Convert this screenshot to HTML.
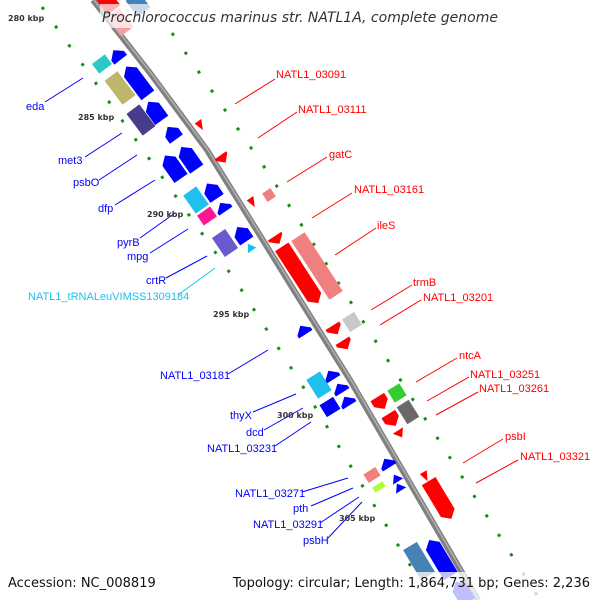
<!DOCTYPE html>
<html><head><meta charset="utf-8"><style>
html,body{margin:0;padding:0;background:#fff;}
svg{display:block;}
text{font-family:"DejaVu Sans","Liberation Sans",sans-serif;}
.b{fill:#0000ff;font-size:11px;font-family:"Liberation Sans",sans-serif;}
.r{fill:#ff0000;font-size:11px;font-family:"Liberation Sans",sans-serif;}
.k{fill:#333;font-size:8px;font-weight:bold;}
</style></head><body>
<svg width="600" height="600" viewBox="0 0 600 600" xmlns="http://www.w3.org/2000/svg">
<polyline points="42,7 237,283 302,385 413,570 430,600" fill="none" stroke="#1a8a1a" stroke-width="3" stroke-dasharray="3 20"/>
<polyline points="172,33 269,174 440,442 540,600" fill="none" stroke="#1a8a1a" stroke-width="3" stroke-dasharray="3 20"/>
<polyline points="93,0 150,73 207,150 300,300 350,380 478,600" fill="none" stroke="#808080" stroke-width="6" stroke-linejoin="round"/>
<polyline points="94,0 151,73 208,150 301,300 351,380 479,600" fill="none" stroke="#b0b0b0" stroke-width="1.5" stroke-linejoin="round"/>

<g transform="translate(108,2) rotate(233)"><rect x="-10" y="-8" width="20" height="16" fill="#ff0000"/></g>
<g transform="translate(138,4) rotate(233)"><rect x="-10" y="-8" width="20" height="16" fill="#4682b4"/></g>
<g transform="translate(120,22) rotate(233)"><rect x="-12" y="-8" width="24" height="16" fill="#f4a0a0"/></g>

<g fill="#0000ff">
<g transform="translate(117,55) rotate(232)"><polygon points="-6,-8 -1,-8 6,0 -1,8 -6,8"/></g>
<g transform="translate(137,81) rotate(233)"><polygon points="-18,-8 11,-8 18,0 11,8 -18,8"/></g>
<g transform="translate(155,111) rotate(234)"><polygon points="-11.5,-8 4.5,-8 11.5,0 4.5,8 -11.5,8"/></g>
<g transform="translate(172,133) rotate(234)"><polygon points="-7.5,-8 0.5,-8 7.5,0 0.5,8 -7.5,8"/></g>
<g transform="translate(173,167) rotate(235)"><polygon points="-14,-8 7,-8 14,0 7,8 -14,8"/></g>
<g transform="translate(189,158) rotate(235)"><polygon points="-13.5,-8 6.5,-8 13.5,0 6.5,8 -13.5,8"/></g>
<g transform="translate(212,191) rotate(236)"><polygon points="-9,-8 2,-8 9,0 2,8 -9,8"/></g>
<g transform="translate(223,207) rotate(236)"><polygon points="-5,-8 -2,-8 5,0 -2,8 -5,8"/></g>
<g transform="translate(242,234) rotate(236)"><polygon points="-8.5,-8 1.5,-8 8.5,0 1.5,8 -8.5,8"/></g>
<g transform="translate(303,330) rotate(237)"><polygon points="-5,-8 -2,-8 5,0 -2,8 -5,8"/></g>
<g transform="translate(331,375) rotate(238)"><polygon points="-5,-8 -2,-8 5,0 -2,8 -5,8"/></g>
<g transform="translate(340,388) rotate(238)"><polygon points="-5,-8 -2,-8 5,0 -2,8 -5,8"/></g>
<g transform="translate(347,401) rotate(238)"><polygon points="-5,-8 -2,-8 5,0 -2,8 -5,8"/></g>
<g transform="translate(330,407) rotate(238)"><rect x="-7" y="-8" width="14" height="16"/></g>
<g transform="translate(387,463) rotate(238)"><polygon points="-5,-8 -2,-8 5,0 -2,8 -5,8"/></g>
<g transform="translate(396,478) rotate(238)"><polygon points="-4,-6 4,0 -4,6"/></g>
<g transform="translate(399,487) rotate(238)"><polygon points="-4,-6 4,0 -4,6"/></g>
<g transform="translate(440,558) rotate(239)"><polygon points="-21,-8 14,-8 21,0 14,8 -21,8"/></g>
<g transform="translate(462,592) rotate(239)"><polygon points="-12,-8 5,-8 12,0 5,8 -12,8"/></g>
</g>
<g transform="translate(102,64) rotate(233)"><rect x="-6" y="-8" width="12" height="16" fill="#2ec8c8"/></g>
<g transform="translate(120,88) rotate(233)"><rect x="-15" y="-8" width="30" height="16" fill="#bdb76b"/></g>
<g transform="translate(141,120) rotate(233)"><rect x="-13.5" y="-8" width="27" height="16" fill="#483d8b"/></g>
<g transform="translate(196,200) rotate(235)"><rect x="-11" y="-8" width="22" height="16" fill="#1ec0f0"/></g>
<g transform="translate(207,216) rotate(235)"><rect x="-6" y="-8" width="12" height="16" fill="#ff1493"/></g>
<g transform="translate(225,243) rotate(236)"><rect x="-11.5" y="-8" width="23" height="16" fill="#6a5acd"/></g>
<g transform="translate(250,247) rotate(236)"><polygon points="-4,-5 4,0 -4,5" fill="#1ec0f0"/></g>
<g transform="translate(319,385) rotate(238)"><rect x="-11" y="-8" width="22" height="16" fill="#1ec0f0"/></g>
<g transform="translate(372,475) rotate(238)"><rect x="-5" y="-7" width="10" height="14" fill="#f08080"/></g>
<g transform="translate(379,487) rotate(238)"><rect x="-3" y="-6" width="6" height="12" fill="#adff2f"/></g>
<g transform="translate(419,561) rotate(239)"><rect x="-17.5" y="-8" width="35" height="16" fill="#4682b4"/></g>

<g fill="#ff0000">
<g transform="translate(200,126) rotate(55)"><polygon points="-5,-5 5,0 -5,3"/></g>
<g transform="translate(223,159) rotate(55)"><polygon points="-4.5,-7 -2.5,-7 4.5,0 -2.5,7 -4.5,7"/></g>
<g transform="translate(252,203) rotate(56)"><polygon points="-5,-5 5,0 -5,3"/></g>
<g transform="translate(277,240) rotate(57)"><polygon points="-4.5,-8 -2.5,-8 4.5,0 -2.5,8 -4.5,8"/></g>
<g transform="translate(300,275) rotate(57)"><polygon points="-33.5,-8 26.5,-8 33.5,0 26.5,8 -33.5,8"/></g>
<g transform="translate(335,330) rotate(58)"><polygon points="-5,-8 -2,-8 5,0 -2,8 -5,8"/></g>
<g transform="translate(345,345) rotate(58)"><polygon points="-5,-8 -2,-8 5,0 -2,8 -5,8"/></g>
<g transform="translate(381,403) rotate(58)"><polygon points="-7,-8 0,-8 7,0 0,8 -7,8"/></g>
<g transform="translate(392,420) rotate(58)"><polygon points="-7,-8 0,-8 7,0 0,8 -7,8"/></g>
<g transform="translate(400,434) rotate(58)"><polygon points="-4,-6 4,0 -4,6"/></g>
<g transform="translate(425,477) rotate(59)"><polygon points="-5,-5 5,0 -5,3"/></g>
<g transform="translate(440,500) rotate(59)"><polygon points="-22,-8 15,-8 22,0 15,8 -22,8"/></g>
</g>
<g transform="translate(269,195) rotate(56)"><rect x="-5" y="-5" width="10" height="10" fill="#f08080"/></g>
<g transform="translate(317,266) rotate(57)"><rect x="-35" y="-8" width="70" height="16" fill="#f08080"/></g>
<g transform="translate(352,322) rotate(58)"><rect x="-7.5" y="-7" width="15" height="14" fill="#c8c8c8"/></g>
<g transform="translate(397,393) rotate(58)"><rect x="-7" y="-7" width="14" height="14" fill="#32cd32"/></g>
<g transform="translate(408,412) rotate(58)"><rect x="-10" y="-7" width="20" height="14" fill="#696969"/></g>

<g stroke="#0000ff" stroke-width="1">
<line x1="45" y1="102" x2="83" y2="78"/>
<line x1="85" y1="157" x2="122" y2="133"/>
<line x1="99" y1="180" x2="137" y2="155"/>
<line x1="115" y1="205" x2="155" y2="180"/>
<line x1="140" y1="238" x2="175" y2="213"/>
<line x1="150" y1="253" x2="188" y2="229"/>
<line x1="166" y1="278" x2="207" y2="256"/>
<line x1="228" y1="374" x2="268" y2="350"/>
<line x1="253" y1="412" x2="296" y2="394"/>
<line x1="264" y1="430" x2="303" y2="408"/>
<line x1="275" y1="446" x2="311" y2="422"/>
<line x1="302" y1="492" x2="348" y2="478"/>
<line x1="311" y1="506" x2="353" y2="488"/>
<line x1="320" y1="523" x2="359" y2="497"/>
<line x1="328" y1="538" x2="362" y2="502"/>
</g>
<line x1="178" y1="295" x2="215" y2="268" stroke="#1ec0f0"/>
<g stroke="#ff0000" stroke-width="1">
<line x1="235" y1="104" x2="275" y2="79"/>
<line x1="258" y1="138" x2="297" y2="112"/>
<line x1="287" y1="182" x2="327" y2="157"/>
<line x1="312" y1="218" x2="352" y2="193"/>
<line x1="335" y1="255" x2="376" y2="228"/>
<line x1="371" y1="310" x2="412" y2="285"/>
<line x1="380" y1="325" x2="421" y2="300"/>
<line x1="416" y1="382" x2="457" y2="358"/>
<line x1="427" y1="401" x2="469" y2="377"/>
<line x1="436" y1="415" x2="478" y2="392"/>
<line x1="463" y1="463" x2="503" y2="439"/>
<line x1="476" y1="483" x2="518" y2="460"/>
</g>

<text class="b" x="26" y="110">eda</text>
<text class="b" x="58" y="164">met3</text>
<text class="b" x="73" y="186">psbO</text>
<text class="b" x="98" y="212">dfp</text>
<text class="b" x="117" y="246">pyrB</text>
<text class="b" x="127" y="260">mpg</text>
<text class="b" x="146" y="284">crtR</text>
<text x="28" y="300" style="fill:#1ec0f0;font-size:11px;font-family:'Liberation Sans',sans-serif">NATL1_tRNALeuVIMSS1309184</text>
<text class="b" x="160" y="379">NATL1_03181</text>
<text class="b" x="230" y="419">thyX</text>
<text class="b" x="246" y="436">dcd</text>
<text class="b" x="207" y="452">NATL1_03231</text>
<text class="b" x="235" y="497">NATL1_03271</text>
<text class="b" x="293" y="512">pth</text>
<text class="b" x="253" y="528">NATL1_03291</text>
<text class="b" x="303" y="544">psbH</text>

<text class="r" x="276" y="78">NATL1_03091</text>
<text class="r" x="298" y="113">NATL1_03111</text>
<text class="r" x="329" y="158">gatC</text>
<text class="r" x="354" y="193">NATL1_03161</text>
<text class="r" x="377" y="229">ileS</text>
<text class="r" x="413" y="286">trmB</text>
<text class="r" x="423" y="301">NATL1_03201</text>
<text class="r" x="459" y="359">ntcA</text>
<text class="r" x="470" y="378">NATL1_03251</text>
<text class="r" x="479" y="392">NATL1_03261</text>
<text class="r" x="505" y="440">psbI</text>
<text class="r" x="520" y="460">NATL1_03321</text>

<text class="k" x="8" y="21">280 kbp</text>
<text class="k" x="78" y="120">285 kbp</text>
<text class="k" x="147" y="217">290 kbp</text>
<text class="k" x="213" y="317">295 kbp</text>
<text class="k" x="277" y="418">300 kbp</text>
<text class="k" x="339" y="521">305 kbp</text>

<rect x="100" y="4" width="400" height="24" fill="#fff" opacity="0.7"/>
<text x="300" y="22" text-anchor="middle" style="font-size:14px;font-style:italic;fill:#333">Prochlorococcus marinus str. NATL1A, complete genome</text>
<rect x="0" y="572" width="600" height="28" fill="#fff" opacity="0.75"/>
<text x="8" y="587" style="font-size:13px;fill:#111">Accession: NC_008819</text>
<text x="590" y="587" text-anchor="end" style="font-size:13px;fill:#111">Topology: circular; Length: 1,864,731 bp; Genes: 2,236</text>
</svg>
</body></html>
